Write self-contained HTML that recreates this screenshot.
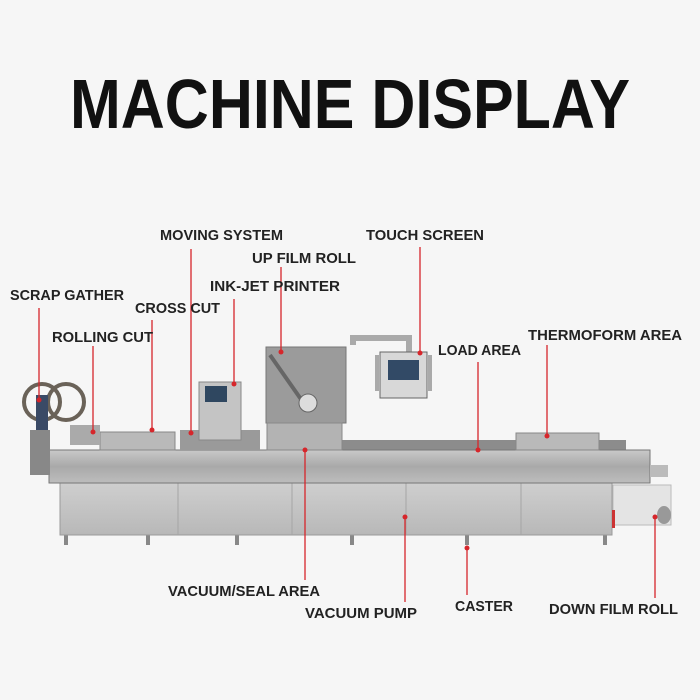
<!DOCTYPE html>
<html><head><meta charset="utf-8"><style>
html,body{margin:0;padding:0;background:#f6f6f6;}
svg{display:block}
text{font-family:"Liberation Sans",sans-serif;font-weight:bold;fill:#222;}
</style></head><body>
<svg width="700" height="700" viewBox="0 0 700 700" xmlns="http://www.w3.org/2000/svg">
<defs>
<linearGradient id="steel" x1="0" y1="0" x2="0" y2="1">
<stop offset="0" stop-color="#c9c9c9"/><stop offset="0.5" stop-color="#a9a9a9"/><stop offset="1" stop-color="#bdbdbd"/></linearGradient>
<linearGradient id="cab" x1="0" y1="0" x2="0" y2="1">
<stop offset="0" stop-color="#cfcfcf"/><stop offset="1" stop-color="#b8b8b8"/></linearGradient>
</defs>
<rect width="700" height="700" fill="#f6f6f6"/>
<text x="70" y="128" font-size="70" textLength="560" lengthAdjust="spacingAndGlyphs" style="fill:#111">MACHINE DISPLAY</text>

<!-- machine -->
<!-- legs -->
<g fill="#888">
<rect x="64" y="535" width="4" height="10"/><rect x="146" y="535" width="4" height="10"/><rect x="235" y="535" width="4" height="10"/>
<rect x="350" y="535" width="4" height="10"/><rect x="465" y="535" width="4" height="10"/><rect x="603" y="535" width="4" height="10"/>
</g>
<rect x="60" y="482" width="552" height="53" fill="url(#cab)" stroke="#9a9a9a"/>
<g stroke="#a5a5a5"><line x1="178" y1="482" x2="178" y2="535"/><line x1="292" y1="482" x2="292" y2="535"/><line x1="406" y1="482" x2="406" y2="535"/><line x1="521" y1="482" x2="521" y2="535"/></g>
<!-- down film roll -->
<rect x="613" y="485" width="58" height="40" fill="#e4e4e4" stroke="#bbb"/>
<ellipse cx="664" cy="515" rx="7" ry="9" fill="#999"/>
<rect x="612" y="510" width="3" height="18" fill="#c33"/>
<!-- conveyor -->
<rect x="342" y="440" width="284" height="10" fill="#8c8c8c"/>
<!-- rail -->
<rect x="49" y="450" width="601" height="33" fill="url(#steel)" stroke="#777"/>
<rect x="650" y="465" width="18" height="12" fill="#bbb"/>
<!-- boxes -->
<rect x="100" y="432" width="75" height="18" fill="#b9b9b9" stroke="#888"/>
<rect x="516" y="433" width="83" height="17" fill="#b9b9b9" stroke="#888"/>
<rect x="180" y="430" width="80" height="20" fill="#9a9a9a"/>
<rect x="199" y="382" width="42" height="58" fill="#c4c4c4" stroke="#888"/>
<rect x="205" y="386" width="22" height="16" fill="#2f4760"/>
<rect x="266" y="347" width="80" height="76" fill="#9b9b9b" stroke="#777"/>
<line x1="270" y1="355" x2="305" y2="405" stroke="#666" stroke-width="4"/>
<circle cx="308" cy="403" r="9" fill="#ddd" stroke="#666"/>
<rect x="267" y="423" width="75" height="27" fill="#b3b3b3" stroke="#888"/>
<!-- touch screen -->
<path d="M353 345 L353 338 L409 338 L409 352" fill="none" stroke="#aaa" stroke-width="6"/>
<rect x="380" y="352" width="47" height="46" fill="#d8d8d8" stroke="#666"/>
<rect x="388" y="360" width="31" height="20" fill="#324a66"/>
<rect x="375" y="355" width="4" height="36" fill="#aaa"/><rect x="428" y="355" width="4" height="36" fill="#aaa"/>
<!-- reels -->
<circle cx="42" cy="402" r="18" fill="none" stroke="#6a6258" stroke-width="4"/>
<circle cx="66" cy="402" r="18" fill="none" stroke="#6a6258" stroke-width="4"/>
<rect x="36" y="395" width="12" height="35" fill="#3a4a66"/>
<rect x="30" y="430" width="20" height="45" fill="#888"/>
<rect x="70" y="425" width="30" height="20" fill="#aaa"/>

<!-- leader lines -->
<g stroke="#d6262b" stroke-width="1.3" fill="none">
<line x1="39" y1="308" x2="39" y2="400"/>
<line x1="93" y1="346" x2="93" y2="432"/>
<line x1="152" y1="320" x2="152" y2="430"/>
<line x1="191" y1="249" x2="191" y2="433"/>
<line x1="234" y1="299" x2="234" y2="384"/>
<line x1="281" y1="267" x2="281" y2="352"/>
<line x1="420" y1="247" x2="420" y2="353"/>
<line x1="478" y1="362" x2="478" y2="450"/>
<line x1="547" y1="345" x2="547" y2="436"/>
<line x1="305" y1="450" x2="305" y2="580"/>
<line x1="405" y1="517" x2="405" y2="602"/>
<line x1="467" y1="548" x2="467" y2="595"/>
<line x1="655" y1="517" x2="655" y2="598"/>
</g>
<g fill="#d6262b">
<circle cx="39" cy="400" r="2.5"/><circle cx="93" cy="432" r="2.5"/><circle cx="152" cy="430" r="2.5"/>
<circle cx="191" cy="433" r="2.5"/><circle cx="234" cy="384" r="2.5"/><circle cx="281" cy="352" r="2.5"/>
<circle cx="420" cy="353" r="2.5"/><circle cx="478" cy="450" r="2.5"/><circle cx="547" cy="436" r="2.5"/>
<circle cx="305" cy="450" r="2.5"/><circle cx="405" cy="517" r="2.5"/><circle cx="467" cy="548" r="2.5"/><circle cx="655" cy="517" r="2.5"/>
</g>

<!-- labels -->
<g font-size="15">
<text x="10" y="300" textLength="114" lengthAdjust="spacingAndGlyphs">SCRAP GATHER</text>
<text x="52" y="342" textLength="101" lengthAdjust="spacingAndGlyphs">ROLLING CUT</text>
<text x="135" y="313" textLength="85" lengthAdjust="spacingAndGlyphs">CROSS CUT</text>
<text x="160" y="240" textLength="123" lengthAdjust="spacingAndGlyphs">MOVING SYSTEM</text>
<text x="210" y="291" textLength="130" lengthAdjust="spacingAndGlyphs">INK-JET PRINTER</text>
<text x="252" y="263" textLength="104" lengthAdjust="spacingAndGlyphs">UP FILM ROLL</text>
<text x="366" y="240" textLength="118" lengthAdjust="spacingAndGlyphs">TOUCH SCREEN</text>
<text x="438" y="355" textLength="83" lengthAdjust="spacingAndGlyphs">LOAD AREA</text>
<text x="528" y="340" textLength="154" lengthAdjust="spacingAndGlyphs">THERMOFORM AREA</text>
<text x="168" y="596" textLength="152" lengthAdjust="spacingAndGlyphs">VACUUM/SEAL AREA</text>
<text x="305" y="618" textLength="112" lengthAdjust="spacingAndGlyphs">VACUUM PUMP</text>
<text x="455" y="611" textLength="58" lengthAdjust="spacingAndGlyphs">CASTER</text>
<text x="549" y="614" textLength="129" lengthAdjust="spacingAndGlyphs">DOWN FILM ROLL</text>
</g>
</svg>
</body></html>
